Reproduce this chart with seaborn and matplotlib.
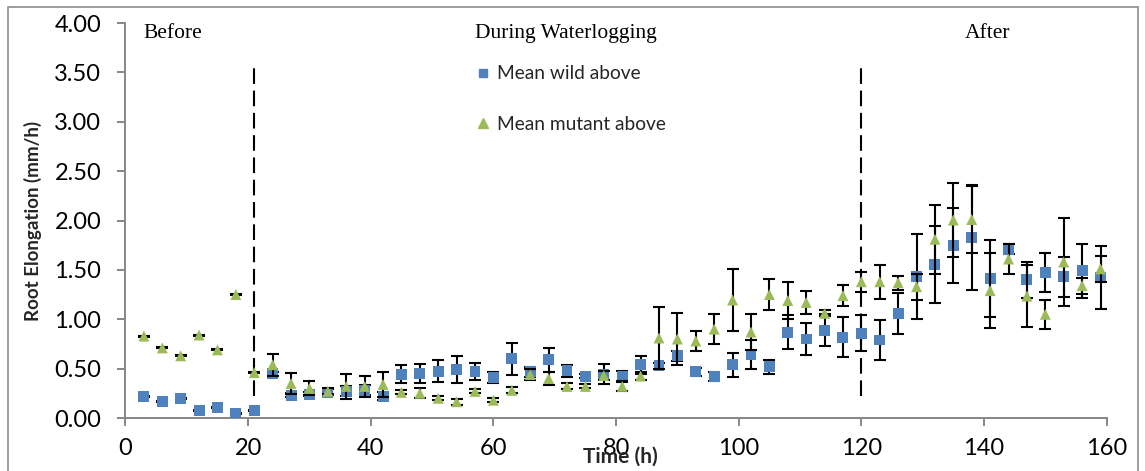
import matplotlib
matplotlib.use("Agg")
import matplotlib.pyplot as plt
import seaborn as sns
import pandas as pd
from matplotlib.patches import Rectangle
from matplotlib.lines import Line2D

# ---------------- data ----------------
time_h = list(range(3, 160, 3))

wild_mean = [0.22, 0.17, 0.20, 0.08, 0.11, 0.05, 0.08,
             0.45, 0.23, 0.24, 0.26, 0.27, 0.28, 0.22, 0.445, 0.45, 0.475, 0.49, 0.47, 0.41,
             0.60, 0.47, 0.59, 0.48, 0.425, 0.445, 0.42, 0.54, 0.53, 0.63, 0.47, 0.42, 0.54,
             0.645, 0.52, 0.87, 0.80, 0.89, 0.82, 0.86, 0.79, 1.06, 1.43, 1.55, 1.745, 1.83,
             1.41, 1.71, 1.40, 1.475, 1.43, 1.49, 1.42]
wild_err = [0.005, 0.005, 0.005, 0.005, 0.005, 0.005, 0.005,
            0.02, 0.02, 0.02, 0.03, 0.05, 0.05, 0.04, 0.09, 0.10, 0.11, 0.14, 0.09, 0.06,
            0.16, 0.05, 0.12, 0.06, 0.02, 0.10, 0.06, 0.09, 0.03, 0.05, 0.04, 0.05, 0.12,
            0.15, 0.07, 0.17, 0.16, 0.16, 0.20, 0.18, 0.20, 0.21, 0.43, 0.39, 0.38, 0.53,
            0.39, 0.05, 0.18, 0.20, 0.20, 0.27, 0.32]

mutant_mean = [0.83, 0.71, 0.63, 0.84, 0.69, 1.25, 0.46,
               0.54, 0.35, 0.30, 0.27, 0.32, 0.32, 0.34, 0.26, 0.25, 0.20, 0.165, 0.27, 0.18,
               0.28, 0.44, 0.40, 0.32, 0.32, 0.43, 0.32, 0.425, 0.81, 0.80, 0.78, 0.90, 1.195,
               0.87, 1.25, 1.19, 1.17, 1.06, 1.24, 1.38, 1.38, 1.37, 1.33, 1.81, 2.005, 2.01,
               1.29, 1.61, 1.235, 1.05, 1.58, 1.34, 1.51]
mutant_err = [0.005, 0.005, 0.005, 0.005, 0.005, 0.005, 0.005,
              0.11, 0.11, 0.07, 0.03, 0.13, 0.11, 0.13, 0.02, 0.05, 0.02, 0.03, 0.02, 0.02,
              0.03, 0.06, 0.07, 0.03, 0.02, 0.05, 0.05, 0.04, 0.31, 0.26, 0.10, 0.15, 0.31,
              0.18, 0.16, 0.19, 0.12, 0.03, 0.11, 0.10, 0.17, 0.07, 0.13, 0.35, 0.375, 0.34,
              0.38, 0.15, 0.31, 0.15, 0.45, 0.08, 0.13]

series_labels = ["Mean wild above", "Mean mutant above"]
phase_labels = ["Before", "During Waterlogging", "After"]
phase_x = [2.9, 57.0, 136.9]
phase_y = 3.89
boundary_x = [21, 120]
boundary_y = [0.22, 3.58]
x_ticks = [0, 20, 40, 60, 80, 100, 120, 140, 160]
y_ticks = [0.0, 0.5, 1.0, 1.5, 2.0, 2.5, 3.0, 3.5, 4.0]

# ---------------- style ----------------
sns.set_style("ticks")
plt.rcParams['font.family'] = ['Lato', 'DejaVu Sans']

BLUE = "#4F81BD"
GREEN = "#9BBB59"
GRAY = "#868686"

fig = plt.figure(figsize=(11.45, 4.71), dpi=100)
ax = fig.add_axes([0.1096, 0.1125, 0.8569, 0.8386])

df = pd.DataFrame({
    "time": time_h * 2,
    "value": wild_mean + mutant_mean,
    "err": wild_err + mutant_err,
    "series": [series_labels[0]] * len(time_h) + [series_labels[1]] * len(time_h),
})

# error bars + markers
ax.errorbar(time_h, wild_mean, yerr=wild_err, fmt='none', ecolor='black',
            elinewidth=1.5, capsize=4.3, capthick=1.5, zorder=2)
sns.scatterplot(data=df[df.series == series_labels[0]], x="time", y="value",
                marker='s', s=62, color=BLUE, edgecolor='none', ax=ax, zorder=3, legend=False)
ax.errorbar(time_h, mutant_mean, yerr=mutant_err, fmt='none', ecolor='black',
            elinewidth=1.5, capsize=4.3, capthick=1.5, zorder=4)
sns.scatterplot(data=df[df.series == series_labels[1]], x="time", y="value",
                marker='^', s=62, color=GREEN, edgecolor='none', ax=ax, zorder=5, legend=False)

# phase boundaries
for bx in boundary_x:
    ax.plot([bx, bx], boundary_y, color='black', lw=1.5,
            linestyle=(0, (7.5, 3.2)), zorder=1)

# phase labels
for lab, px in zip(phase_labels, phase_x):
    ax.text(px, phase_y, lab, ha='left', va='center', fontsize=15.5,
            family=['Liberation Serif', 'DejaVu Serif'], color='black')

# axes
ax.set_xlim(0, 160)
ax.set_ylim(0, 4.0)
ax.set_xticks(x_ticks)
ax.set_xticklabels([str(t) for t in x_ticks])
ax.set_yticks(y_ticks)
ax.set_yticklabels([f"{v:.2f}" for v in y_ticks])
for side in ["top", "right"]:
    ax.spines[side].set_visible(False)
for side in ["left", "bottom"]:
    ax.spines[side].set_color(GRAY)
    ax.spines[side].set_linewidth(1.4)
ax.tick_params(axis='both', direction='out', length=5.5, width=1.4, color=GRAY,
               labelsize=17, labelcolor='black')
ax.tick_params(axis='y', pad=12)
ax.tick_params(axis='x', pad=9)

ax.set_ylabel("Root Elongation (mm/h)", fontsize=13.5, fontweight='bold')
ax.yaxis.set_label_coords(-0.085, 0.5)
ax.set_xlabel("Time (h)", fontsize=15, fontweight='bold', va='top')
ax.xaxis.set_label_coords(0.504, -0.073)

# legend
handles = [Line2D([], [], linestyle='none', marker='s', markersize=6, color=BLUE),
           Line2D([], [], linestyle='none', marker='^', markersize=6.5, color=GREEN)]
ax.legend(handles, series_labels, loc='upper left', bbox_to_anchor=(0.357, 0.893),
          frameon=False, fontsize=13.8, labelspacing=1.75, handletextpad=0.3,
          handlelength=0.8, borderaxespad=0, borderpad=0)

# outer chart border
fig.add_artist(Rectangle((8 / 1145, -0.01), (1138 - 8) / 1145, 1 - 7 / 471 + 0.01,
                         transform=fig.transFigure, fill=False,
                         edgecolor='#8c8c8c', lw=1.2))

fig.savefig("out.png", dpi=100)
